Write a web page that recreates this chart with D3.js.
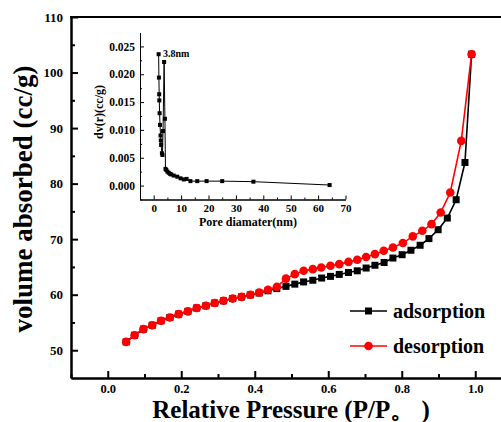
<!DOCTYPE html>
<html>
<head>
<meta charset="utf-8">
<script src="https://cdn.jsdelivr.net/npm/d3@7"></script>
<style>
  html, body { margin: 0; padding: 0; background: #fff; }
  svg { display: block; font-family: "Liberation Serif", "Times New Roman", serif; font-weight: bold; }
</style>
</head>
<body>
<svg id="chart" width="501" height="422"></svg>
<script>
// Isotherm (main plot): relative pressure P/P0 vs volume adsorbed (cc/g)
const adsP = [0.050, 0.073, 0.097, 0.121, 0.145, 0.169, 0.193, 0.218, 0.242, 0.267,
  0.291, 0.315, 0.340, 0.364, 0.388, 0.412, 0.436, 0.460, 0.485, 0.509,
  0.533, 0.558, 0.582, 0.606, 0.630, 0.655, 0.679, 0.703, 0.727, 0.752,
  0.776, 0.801, 0.825, 0.850, 0.874, 0.899, 0.924, 0.948, 0.972, 0.990];
const adsV = [51.5, 52.7, 53.8, 54.5, 55.3, 55.9, 56.5, 57.0, 57.6, 58.0,
  58.5, 58.9, 59.3, 59.6, 59.95, 60.3, 60.7, 61.1, 61.5, 61.9,
  62.3, 62.6, 63.0, 63.3, 63.65, 64.0, 64.3, 64.8, 65.3, 65.8,
  66.6, 67.2, 68.0, 68.9, 70.1, 71.7, 73.8, 77.1, 83.8, 103.3];
const desP = [0.990, 0.962, 0.932, 0.906, 0.881, 0.856, 0.830, 0.803, 0.776, 0.751,
  0.727, 0.703, 0.679, 0.655, 0.630, 0.606, 0.581, 0.558, 0.533, 0.509,
  0.485, 0.460, 0.436, 0.412, 0.388, 0.364, 0.340, 0.315, 0.291, 0.267,
  0.242, 0.218, 0.193, 0.169, 0.145, 0.121, 0.097, 0.073, 0.050];
const desV = [103.3, 87.7, 78.4, 74.8, 72.7, 71.5, 70.5, 69.3, 68.5, 67.9,
  67.3, 66.8, 66.3, 65.9, 65.5, 65.2, 64.9, 64.6, 64.3, 63.7,
  62.9, 61.4, 60.9, 60.4, 60.0, 59.6, 59.3, 58.9, 58.5, 58.0,
  57.6, 57.0, 56.5, 55.9, 55.3, 54.5, 53.8, 52.7, 51.5];

// Pore size distribution (inset)
const poreD = [1.8, 1.9, 2.0, 2.05, 2.15, 2.3, 2.5, 2.6, 2.7, 3.0, 3.2, 3.4, 3.8, 4.1, 4.3,
  4.6, 5.0, 5.5, 6.0, 6.4, 7.3, 8.6, 9.8, 11.0, 12.0, 13.4, 15.9, 19.3, 25.0, 36.4, 64.2];
const poreDv = [0.0236, 0.0194, 0.0164, 0.0153, 0.0130, 0.0109, 0.0090, 0.0081, 0.0073, 0.0058, 0.0055, 0.0098, 0.0222, 0.0120, 0.0030,
  0.0028, 0.0025, 0.0023, 0.0021, 0.0020, 0.0018, 0.0016, 0.0013, 0.0011, 0.0012, 0.0008, 0.0008, 0.0008, 0.0008, 0.0007, 0.0001];

const xTicks = [0, 0.2, 0.4, 0.6, 0.8, 1.0];
const xMinor = [-0.1, 0.1, 0.3, 0.5, 0.7, 0.9];
const yTicks = [50, 60, 70, 80, 90, 100, 110];
const yMinor = [55, 65, 75, 85, 95, 105];
const ixTicks = [0, 10, 20, 30, 40, 50, 60, 70];
const ixMinor = [-5, 5, 15, 25, 35, 45, 55, 65];
const iyTicks = [0, 0.005, 0.01, 0.015, 0.02, 0.025];
const iyMinor = [-0.0025, 0.0025, 0.0075, 0.0125, 0.0175, 0.0225];

const svg = d3.select("#chart");
svg.append("rect").attr("width", 501).attr("height", 422).attr("fill", "#fff");

const x = d3.scaleLinear([-0.1, 1.1], [71, 512]);
const y = d3.scaleLinear([45, 110], [378, 17]);

// d3 axes put font-family="sans-serif" on the group; drop it so the serif bold applies
function styleAxis(g, sw) {
  g.attr("font-family", null);
  g.select(".domain").attr("stroke", "#000").attr("stroke-width", sw);
  g.selectAll(".tick line").attr("stroke", "#000").attr("stroke-width", sw);
  g.selectAll("text").attr("fill", "#000");
}

// main axes
const gx = svg.append("g").attr("transform", "translate(0,378)")
  .call(d3.axisBottom(x).tickValues(xTicks).tickFormat(d3.format(".1f"))
    .tickSizeInner(-7).tickSizeOuter(0).tickPadding(6))
  .attr("font-size", 12.5);
styleAxis(gx, 2);
const gxm = svg.append("g").attr("transform", "translate(0,378)")
  .call(d3.axisBottom(x).tickValues(xMinor).tickFormat("").tickSizeInner(-4).tickSizeOuter(0));
styleAxis(gxm, 2);

const gy = svg.append("g").attr("transform", "translate(71,0)")
  .call(d3.axisLeft(y).tickValues(yTicks).tickFormat(d3.format("d"))
    .tickSizeInner(-7).tickSizeOuter(0).tickPadding(8))
  .attr("font-size", 13);
styleAxis(gy, 2);
const gym = svg.append("g").attr("transform", "translate(71,0)")
  .call(d3.axisLeft(y).tickValues(yMinor).tickFormat("").tickSizeInner(-4).tickSizeOuter(0));
styleAxis(gym, 2);

// top and right frame
svg.append("line").attr("x1", 70).attr("x2", 512).attr("y1", y(110)).attr("y2", y(110))
  .attr("stroke", "#000").attr("stroke-width", 2);
svg.append("line").attr("x1", x(1.1)).attr("x2", x(1.1)).attr("y1", y(110)).attr("y2", y(45))
  .attr("stroke", "#000").attr("stroke-width", 2);

svg.append("text").attr("x", 291).attr("y", 418).attr("text-anchor", "middle")
  .attr("font-size", 25).text("Relative Pressure (P/P。 )");
svg.append("text").attr("transform", "translate(32,199) rotate(-90)").attr("text-anchor", "middle")
  .attr("font-size", 27).text("volume absorbed (cc/g)");

// series
const ads = adsP.map((p, i) => [p, adsV[i]]);
const des = desP.map((p, i) => [p, desV[i]]);
const line = d3.line().x(d => x(d[0])).y(d => y(d[1]));

svg.append("path").datum(ads).attr("d", line).attr("fill", "none")
  .attr("stroke", "#000").attr("stroke-width", 1.6);
svg.append("g").selectAll("rect").data(ads).join("rect")
  .attr("x", d => x(d[0]) - 3.5).attr("y", d => y(d[1]) - 3.5)
  .attr("width", 7).attr("height", 7).attr("fill", "#000");

svg.append("path").datum(des).attr("d", line).attr("fill", "none")
  .attr("stroke", "#f00").attr("stroke-width", 1.6);
svg.append("g").selectAll("circle").data(des).join("circle")
  .attr("cx", d => x(d[0])).attr("cy", d => y(d[1])).attr("r", 4.3).attr("fill", "#f00");

// legend
const leg = svg.append("g");
leg.append("line").attr("x1", 350).attr("x2", 387).attr("y1", 311).attr("y2", 311)
  .attr("stroke", "#000").attr("stroke-width", 1.6);
leg.append("rect").attr("x", 365).attr("y", 307.5).attr("width", 7).attr("height", 7).attr("fill", "#000");
leg.append("text").attr("x", 393).attr("y", 317.5).attr("font-size", 20).text("adsorption");
leg.append("line").attr("x1", 350).attr("x2", 387).attr("y1", 346).attr("y2", 346)
  .attr("stroke", "#f00").attr("stroke-width", 1.6);
leg.append("circle").attr("cx", 368.5).attr("cy", 346).attr("r", 4.3).attr("fill", "#f00");
leg.append("text").attr("x", 393).attr("y", 352.5).attr("font-size", 20).text("desorption");

// inset
const xi = d3.scaleLinear([-5, 70], [140, 345.5]);
const yi = d3.scaleLinear([-0.0025, 0.0275], [199.5, 32.5]);

const gix = svg.append("g").attr("transform", "translate(0,199.5)")
  .call(d3.axisBottom(xi).tickValues(ixTicks).tickFormat(d3.format("d"))
    .tickSizeInner(-4).tickSizeOuter(0).tickPadding(5))
  .attr("font-size", 11);
styleAxis(gix, 1);
const gixm = svg.append("g").attr("transform", "translate(0,199.5)")
  .call(d3.axisBottom(xi).tickValues(ixMinor).tickFormat("").tickSizeInner(-2).tickSizeOuter(0));
styleAxis(gixm, 1);

const giy = svg.append("g").attr("transform", "translate(140,0)")
  .call(d3.axisLeft(yi).tickValues(iyTicks).tickFormat(d3.format(".3f"))
    .tickSizeInner(-4).tickSizeOuter(0).tickPadding(5))
  .attr("font-size", 11.5);
styleAxis(giy, 1);
const giym = svg.append("g").attr("transform", "translate(140,0)")
  .call(d3.axisLeft(yi).tickValues(iyMinor).tickFormat("").tickSizeInner(-2).tickSizeOuter(0));
styleAxis(giym, 1);

svg.append("text").attr("x", 248).attr("y", 226).attr("text-anchor", "middle")
  .attr("font-size", 12).text("Pore diamater(nm)");
svg.append("text").attr("transform", "translate(103,112) rotate(-90)").attr("text-anchor", "middle")
  .attr("font-size", 12).text("dv(r)(cc/g)");

const pore = poreD.map((d, i) => [d, poreDv[i]]);
svg.append("path").datum(pore)
  .attr("d", d3.line().x(d => xi(d[0])).y(d => yi(d[1])))
  .attr("fill", "none").attr("stroke", "#000").attr("stroke-width", 1);
svg.append("g").selectAll("rect").data(pore).join("rect")
  .attr("x", d => xi(d[0]) - 2).attr("y", d => yi(d[1]) - 2)
  .attr("width", 4).attr("height", 4).attr("fill", "#000");

svg.append("text").attr("x", 163).attr("y", 57).attr("font-size", 10).text("3.8nm");
</script>
</body>
</html>
